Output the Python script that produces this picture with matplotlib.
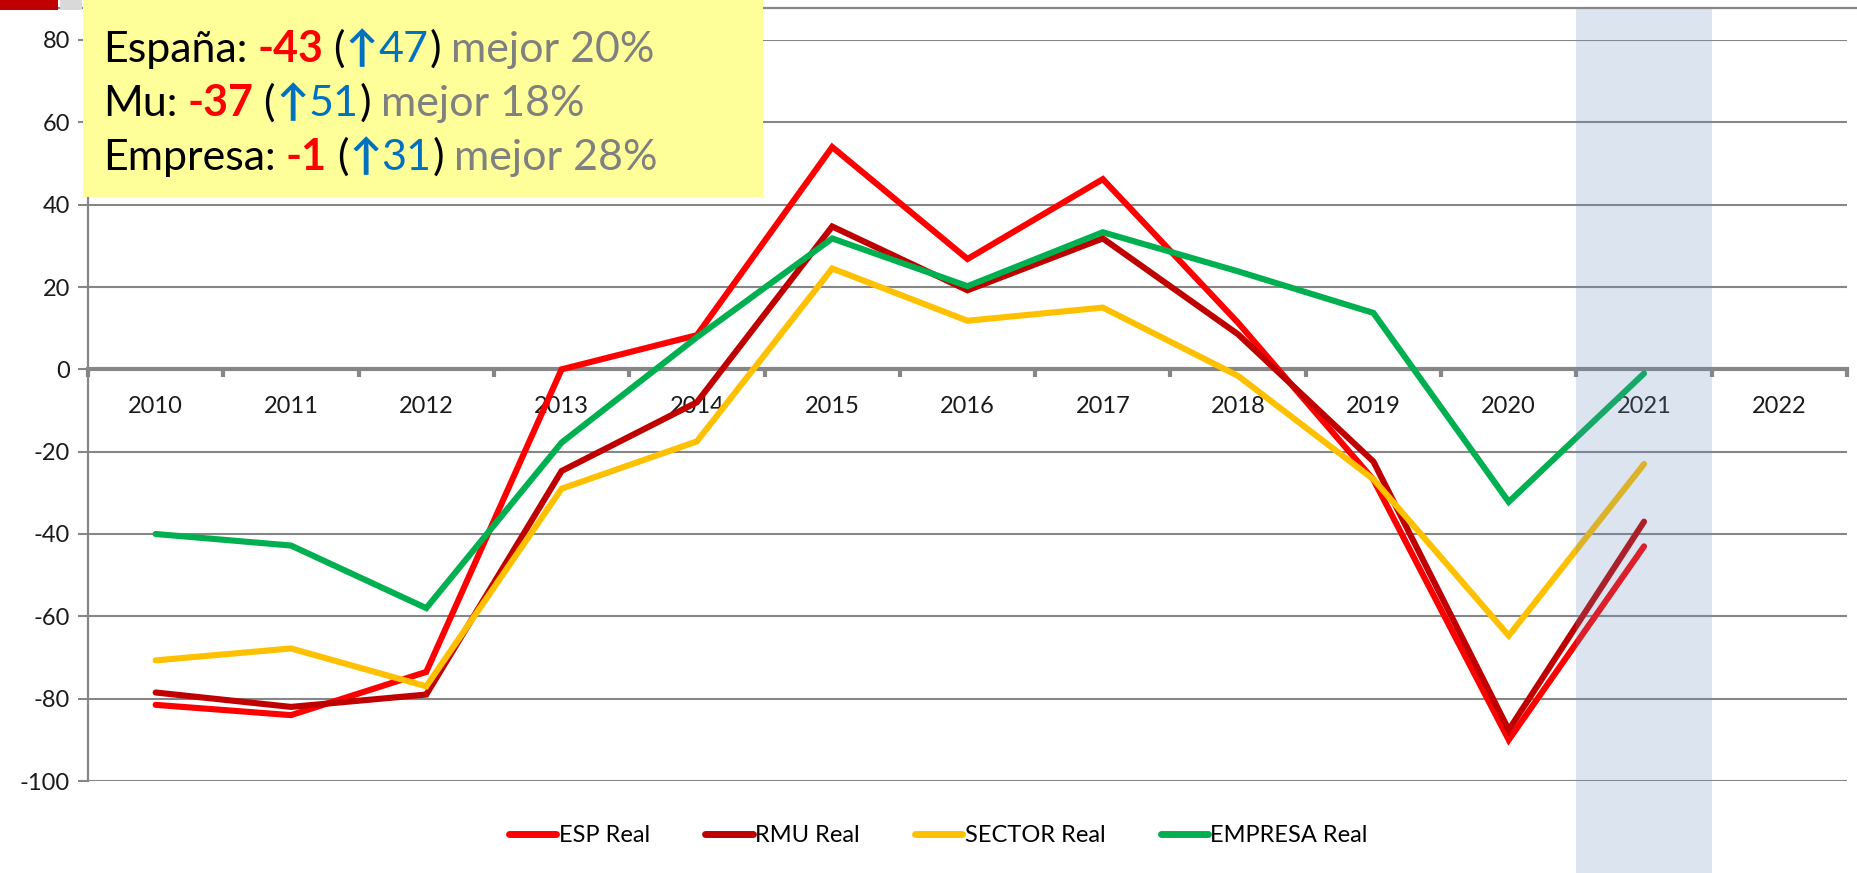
import matplotlib
matplotlib.use("Agg")
import matplotlib.pyplot as plt
from matplotlib.patches import Rectangle
from matplotlib.lines import Line2D
from matplotlib.transforms import blended_transform_factory

plt.rcParams["axes.unicode_minus"] = False

years = ["2010", "2011", "2012", "2013", "2014", "2015", "2016",
         "2017", "2018", "2019", "2020", "2021", "2022"]

esp = [-81.5, -84, -73.5, 0, 8.3, 54, 26.8, 46.2, 11.3, -26.8, -90, -43]
rmu = [-78.5, -82, -79, -24.7, -8, 34.7, 19.2, 31.8, 8.5, -22.4, -87.6, -37]
sector = [-70.7, -67.8, -77, -29, -17.5, 24.5, 11.8, 15, -1.6, -26.7, -64.7, -23]
empresa = [-40, -42.8, -58, -17.8, 7.8, 31.8, 20.2, 33.3, 23.8, 13.7, -32.2, -1]

series_names = ["ESP Real", "RMU Real", "SECTOR Real", "EMPRESA Real"]
series_colors = ["#ff0000", "#c00000", "#ffc000", "#00b050"]

box_names = ["España", "Mu", "Empresa"]
box_last = [-43, -37, -1]
box_rise = [47, 51, 31]
box_better = [20, 18, 28]

W, H = 1857, 873
FONT = ["Lato", "DejaVu Sans"]
GRID = "#868686"

fig = plt.figure(figsize=(W / 100, H / 100), dpi=100)
fig.patch.set_facecolor("white")
ax = fig.add_axes([88 / W, 1 - 781 / H, (1847 - 88) / W, (781 - 40) / H])
ax.set_facecolor("none")

x = list(range(len(years)))
for vals, name, col in zip([esp, rmu, sector, empresa], series_names, series_colors):
    ax.plot(x[:len(vals)], vals, color=col, lw=4.4, label=name,
            solid_joinstyle="miter", solid_capstyle="round", zorder=3)

ax.set_xlim(-0.5, len(years) - 0.5)
ax.set_ylim(-100, 80)
ax.set_yticks(range(-100, 81, 20))
ax.yaxis.grid(True, color=GRID, lw=1.5)
ax.set_axisbelow(True)

# x axis sits at zero, ticks at category boundaries, labels at centres
ax.spines["bottom"].set_position(("data", 0))
ax.spines["bottom"].set_color(GRID)
ax.spines["bottom"].set_linewidth(3)
ax.spines["left"].set_color(GRID)
ax.spines["left"].set_linewidth(1.6)
ax.spines["top"].set_visible(False)
ax.spines["right"].set_visible(False)
ax.set_xticks([i - 0.5 for i in range(len(years) + 1)])
ax.set_xticklabels([])
ax.set_xticks(x, minor=True)
ax.set_xticklabels(years, minor=True, fontsize=17, family=FONT, color="#1a1a1a")
ax.tick_params(axis="x", which="major", direction="out", length=6, width=3, color=GRID)
ax.tick_params(axis="x", which="minor", length=0, pad=19)
ax.tick_params(axis="y", direction="out", length=7, width=1.5, color=GRID,
               labelsize=17, labelcolor="#1a1a1a", pad=6)
for lab in ax.get_yticklabels():
    lab.set_family(FONT)

# highlighted 2021 column, runs from the top line to the bottom of the figure
band = Rectangle((10.5, 0), 1.0, 1 - 9 / H,
                 transform=blended_transform_factory(ax.transData, fig.transFigure),
                 facecolor="#648bbb", alpha=0.23, edgecolor="none",
                 clip_on=False, zorder=4)
ax.add_patch(band)

leg = ax.legend(loc="center", bbox_to_anchor=(0.5 + 10 / W, 1 - 836 / H),
                bbox_transform=fig.transFigure, ncol=4, frameon=False,
                handlelength=2.0, handletextpad=0.1, columnspacing=2.35,
                prop={"family": FONT, "size": 17})
for h in leg.legend_handles:
    h.set_linewidth(5)

# top border line and corner logo
fig.add_artist(Line2D([0, 1], [1 - 8 / H, 1 - 8 / H], color=GRID, lw=1.6, zorder=1))
fig.add_artist(Rectangle((0, 1 - 10 / H), 58 / W, 10 / H, facecolor="#c00000",
                         edgecolor="none", zorder=2))
fig.add_artist(Rectangle((60 / W, 1 - 10 / H), 22 / W, 10 / H, facecolor="#d9d9d9",
                         edgecolor="none", zorder=2))

# yellow note box
fig.add_artist(Rectangle((83 / W, 1 - 197 / H), (763 - 83) / W, 197 / H,
                         facecolor="#ffff99", edgecolor="none", zorder=5))

renderer = fig.canvas.get_renderer()
FS = 31
space = 10


def rich_line(x0, y0, parts):
    xp = x0
    for txt, col, wt, gap in parts:
        xp += gap
        t = fig.text(xp / W, 1 - y0 / H, txt, color=col, fontweight=wt, fontsize=FS,
                     family=FONT, va="baseline", ha="left", zorder=6)
        bb = t.get_window_extent(renderer)
        xp = bb.x1


for i, (nm, lv, rs, bt) in enumerate(zip(box_names, box_last, box_rise, box_better)):
    base = 62 + i * 54
    rich_line(103, base, [
        (nm + ":", "black", "normal", 0),
        (str(lv), "#ff0000", "bold", space),
        ("(", "black", "normal", space),
        ("\u2191", "#0070c0", "bold", 1),
        (str(rs), "#0070c0", "normal", 0),
        (")", "black", "normal", 1),
        ("mejor %d%%" % bt, "#808080", "normal", space),
    ])

fig.savefig("out.png", dpi=100)
